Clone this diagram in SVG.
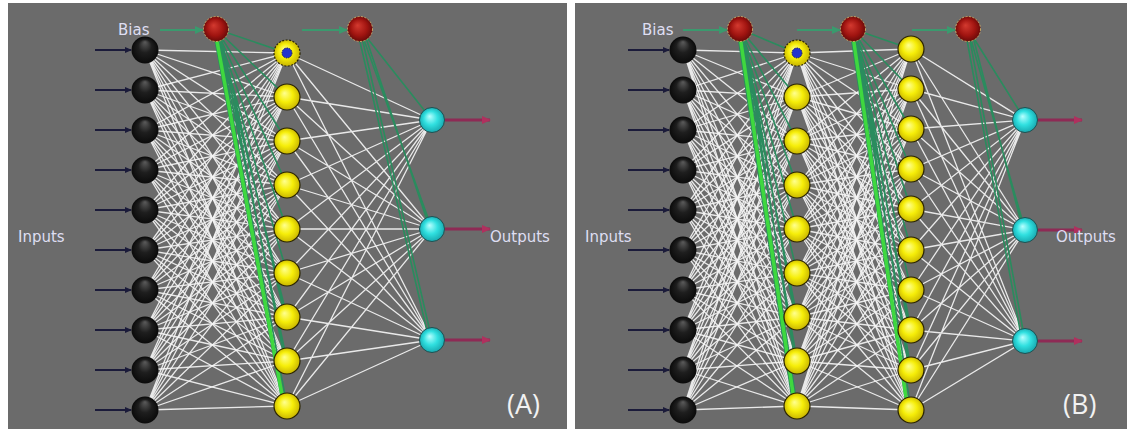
<svg xmlns="http://www.w3.org/2000/svg" width="1132" height="434" viewBox="0 0 1132 434">
<style>
.panel{fill:#6b6b6b}
.w{stroke:#f4f4f4;stroke-width:1.3;fill:none;opacity:.92}
.g{stroke:#2a8c5e;stroke-width:1.6;fill:none}
.gb{stroke:#3fd83f;stroke-width:3.5;fill:none}
.inArr{stroke:#1b1b3a;stroke-width:2;fill:none}
.biasArr{stroke:#3a9a6e;stroke-width:2;fill:none}
.outArr{stroke:#8e2a55;stroke-width:3;fill:none}
.lbl{font-family:"DejaVu Sans",sans-serif;font-size:15px;fill:#dedef2}
.tag{font-family:"Open Sans","Liberation Sans",sans-serif;font-size:27px;fill:#f2f2f2}
.blk{fill:url(#gBlk)}
.yel{fill:url(#gYel);stroke:#2a2400;stroke-width:1.2}
.cya{fill:url(#gCya);stroke:#1f5050;stroke-width:1}
.red{fill:url(#gRed);stroke:#c8a868;stroke-width:1;stroke-dasharray:2 1.5}
</style>
<defs>
<radialGradient id="gBlk" cx=".5" cy=".55" r=".55" fx=".5" fy=".2"><stop offset="0" stop-color="#5c5c5c"/><stop offset=".45" stop-color="#1e1e1e"/><stop offset="1" stop-color="#060606"/></radialGradient>
<radialGradient id="gYel" cx=".5" cy=".5" r=".55" fx=".4" fy=".35"><stop offset="0" stop-color="#ffff90"/><stop offset=".5" stop-color="#f6ee08"/><stop offset="1" stop-color="#c2ad00"/></radialGradient>
<radialGradient id="gCya" cx=".5" cy=".5" r=".55" fx=".4" fy=".35"><stop offset="0" stop-color="#b8ffff"/><stop offset=".5" stop-color="#30e0e0"/><stop offset="1" stop-color="#14a0a8"/></radialGradient>
<radialGradient id="gRed" cx=".5" cy=".5" r=".55" fx=".4" fy=".35"><stop offset="0" stop-color="#d43a30"/><stop offset=".6" stop-color="#a01410"/><stop offset="1" stop-color="#5e0808"/></radialGradient>
<marker id="mNavy" markerWidth="8" markerHeight="8" refX="6" refY="4" orient="auto" markerUnits="userSpaceOnUse"><path d="M0 1L7 4L0 7Z" fill="#1b1b3a"/></marker>
<marker id="mGreen" markerWidth="10" markerHeight="10" refX="8" refY="5" orient="auto" markerUnits="userSpaceOnUse"><path d="M0 1L9 5L0 9Z" fill="#3a9a6e"/></marker>
<marker id="mMaroon" markerWidth="10" markerHeight="10" refX="8" refY="5" orient="auto" markerUnits="userSpaceOnUse"><path d="M0 1L9 5L0 9Z" fill="#b0305e"/></marker>
</defs>
<rect width="1132" height="434" fill="#ffffff"/>
<rect class="panel" x="8" y="3" width="559" height="426"/>
<rect class="panel" x="575" y="3" width="552" height="426"/>

<g id="connectors">
<path class="w" d="M145 50L287 53M145 50L287 97M145 50L287 141M145 50L287 185M145 50L287 229M145 50L287 273M145 50L287 317M145 50L287 361M145 50L287 406"/>
<path class="w" d="M145 90L287 53M145 90L287 97M145 90L287 141M145 90L287 185M145 90L287 229M145 90L287 273M145 90L287 317M145 90L287 361M145 90L287 406"/>
<path class="w" d="M145 130L287 53M145 130L287 97M145 130L287 141M145 130L287 185M145 130L287 229M145 130L287 273M145 130L287 317M145 130L287 361M145 130L287 406"/>
<path class="w" d="M145 170L287 53M145 170L287 97M145 170L287 141M145 170L287 185M145 170L287 229M145 170L287 273M145 170L287 317M145 170L287 361M145 170L287 406"/>
<path class="w" d="M145 210L287 53M145 210L287 97M145 210L287 141M145 210L287 185M145 210L287 229M145 210L287 273M145 210L287 317M145 210L287 361M145 210L287 406"/>
<path class="w" d="M145 250L287 53M145 250L287 97M145 250L287 141M145 250L287 185M145 250L287 229M145 250L287 273M145 250L287 317M145 250L287 361M145 250L287 406"/>
<path class="w" d="M145 290L287 53M145 290L287 97M145 290L287 141M145 290L287 185M145 290L287 229M145 290L287 273M145 290L287 317M145 290L287 361M145 290L287 406"/>
<path class="w" d="M145 330L287 53M145 330L287 97M145 330L287 141M145 330L287 185M145 330L287 229M145 330L287 273M145 330L287 317M145 330L287 361M145 330L287 406"/>
<path class="w" d="M145 370L287 53M145 370L287 97M145 370L287 141M145 370L287 185M145 370L287 229M145 370L287 273M145 370L287 317M145 370L287 361M145 370L287 406"/>
<path class="w" d="M145 410L287 53M145 410L287 97M145 410L287 141M145 410L287 185M145 410L287 229M145 410L287 273M145 410L287 317M145 410L287 361M145 410L287 406"/>
<path class="w" d="M287 53L432 120M287 53L432 229M287 53L432 340M287 97L432 120M287 97L432 229M287 97L432 340M287 141L432 120M287 141L432 229M287 141L432 340M287 185L432 120M287 185L432 229M287 185L432 340M287 229L432 120M287 229L432 229M287 229L432 340M287 273L432 120M287 273L432 229M287 273L432 340M287 317L432 120M287 317L432 229M287 317L432 340M287 361L432 120M287 361L432 229M287 361L432 340M287 406L432 120M287 406L432 229M287 406L432 340"/>
<path class="g" d="M216 29L287 53M216 29L287 97M216 29L287 141M216 29L287 185M216 29L287 229M216 29L287 273M216 29L287 317M216 29L287 361M216 29L287 406M219 29L285 361M213 29L283 406M219 29L285 317"/>
<path class="gb" d="M216 36L283 400"/>
<path class="g" d="M360 29L432 120M360 29L432 229M360 29L432 340M363 29L430 229M357 29L429 340"/>

<path class="w" d="M683 50L797 53M683 50L797 97M683 50L797 141M683 50L797 185M683 50L797 229M683 50L797 273M683 50L797 317M683 50L797 361M683 50L797 406"/>
<path class="w" d="M683 90L797 53M683 90L797 97M683 90L797 141M683 90L797 185M683 90L797 229M683 90L797 273M683 90L797 317M683 90L797 361M683 90L797 406"/>
<path class="w" d="M683 130L797 53M683 130L797 97M683 130L797 141M683 130L797 185M683 130L797 229M683 130L797 273M683 130L797 317M683 130L797 361M683 130L797 406"/>
<path class="w" d="M683 170L797 53M683 170L797 97M683 170L797 141M683 170L797 185M683 170L797 229M683 170L797 273M683 170L797 317M683 170L797 361M683 170L797 406"/>
<path class="w" d="M683 210L797 53M683 210L797 97M683 210L797 141M683 210L797 185M683 210L797 229M683 210L797 273M683 210L797 317M683 210L797 361M683 210L797 406"/>
<path class="w" d="M683 250L797 53M683 250L797 97M683 250L797 141M683 250L797 185M683 250L797 229M683 250L797 273M683 250L797 317M683 250L797 361M683 250L797 406"/>
<path class="w" d="M683 290L797 53M683 290L797 97M683 290L797 141M683 290L797 185M683 290L797 229M683 290L797 273M683 290L797 317M683 290L797 361M683 290L797 406"/>
<path class="w" d="M683 330L797 53M683 330L797 97M683 330L797 141M683 330L797 185M683 330L797 229M683 330L797 273M683 330L797 317M683 330L797 361M683 330L797 406"/>
<path class="w" d="M683 370L797 53M683 370L797 97M683 370L797 141M683 370L797 185M683 370L797 229M683 370L797 273M683 370L797 317M683 370L797 361M683 370L797 406"/>
<path class="w" d="M683 410L797 53M683 410L797 97M683 410L797 141M683 410L797 185M683 410L797 229M683 410L797 273M683 410L797 317M683 410L797 361M683 410L797 406"/>
<path class="w" d="M797 53L911 49M797 53L911 89M797 53L911 129M797 53L911 169M797 53L911 209M797 53L911 250M797 53L911 290M797 53L911 330M797 53L911 370M797 53L911 410"/>
<path class="w" d="M797 97L911 49M797 97L911 89M797 97L911 129M797 97L911 169M797 97L911 209M797 97L911 250M797 97L911 290M797 97L911 330M797 97L911 370M797 97L911 410"/>
<path class="w" d="M797 141L911 49M797 141L911 89M797 141L911 129M797 141L911 169M797 141L911 209M797 141L911 250M797 141L911 290M797 141L911 330M797 141L911 370M797 141L911 410"/>
<path class="w" d="M797 185L911 49M797 185L911 89M797 185L911 129M797 185L911 169M797 185L911 209M797 185L911 250M797 185L911 290M797 185L911 330M797 185L911 370M797 185L911 410"/>
<path class="w" d="M797 229L911 49M797 229L911 89M797 229L911 129M797 229L911 169M797 229L911 209M797 229L911 250M797 229L911 290M797 229L911 330M797 229L911 370M797 229L911 410"/>
<path class="w" d="M797 273L911 49M797 273L911 89M797 273L911 129M797 273L911 169M797 273L911 209M797 273L911 250M797 273L911 290M797 273L911 330M797 273L911 370M797 273L911 410"/>
<path class="w" d="M797 317L911 49M797 317L911 89M797 317L911 129M797 317L911 169M797 317L911 209M797 317L911 250M797 317L911 290M797 317L911 330M797 317L911 370M797 317L911 410"/>
<path class="w" d="M797 361L911 49M797 361L911 89M797 361L911 129M797 361L911 169M797 361L911 209M797 361L911 250M797 361L911 290M797 361L911 330M797 361L911 370M797 361L911 410"/>
<path class="w" d="M797 406L911 49M797 406L911 89M797 406L911 129M797 406L911 169M797 406L911 209M797 406L911 250M797 406L911 290M797 406L911 330M797 406L911 370M797 406L911 410"/>
<path class="w" d="M911 49L1025 120M911 49L1025 230M911 49L1025 341M911 89L1025 120M911 89L1025 230M911 89L1025 341M911 129L1025 120M911 129L1025 230M911 129L1025 341M911 169L1025 120M911 169L1025 230M911 169L1025 341M911 209L1025 120M911 209L1025 230M911 209L1025 341M911 250L1025 120M911 250L1025 230M911 250L1025 341M911 290L1025 120M911 290L1025 230M911 290L1025 341M911 330L1025 120M911 330L1025 230M911 330L1025 341M911 370L1025 120M911 370L1025 230M911 370L1025 341M911 410L1025 120M911 410L1025 230M911 410L1025 341"/>
<path class="g" d="M740 29L797 53M740 29L797 97M740 29L797 141M740 29L797 185M740 29L797 229M740 29L797 273M740 29L797 317M740 29L797 361M740 29L797 406M743 29L795 361M737 29L793 406M743 29L795 317"/>
<path class="gb" d="M740 36L794 400"/>
<path class="g" d="M853 29L911 49M853 29L911 89M853 29L911 129M853 29L911 169M853 29L911 209M853 29L911 250M853 29L911 290M853 29L911 330M853 29L911 370M853 29L911 410M856 29L909 370M850 29L907 410M856 29L909 330"/>
<path class="gb" d="M853 36L907 404"/>
<path class="g" d="M968 29L1025 120M968 29L1025 230M968 29L1025 341M971 29L1023 230M965 29L1022 341"/>

<path class="inArr" marker-end="url(#mNavy)" d="M95 50H131"/>
<path class="inArr" marker-end="url(#mNavy)" d="M95 90H131"/>
<path class="inArr" marker-end="url(#mNavy)" d="M95 130H131"/>
<path class="inArr" marker-end="url(#mNavy)" d="M95 170H131"/>
<path class="inArr" marker-end="url(#mNavy)" d="M95 210H131"/>
<path class="inArr" marker-end="url(#mNavy)" d="M95 250H131"/>
<path class="inArr" marker-end="url(#mNavy)" d="M95 290H131"/>
<path class="inArr" marker-end="url(#mNavy)" d="M95 330H131"/>
<path class="inArr" marker-end="url(#mNavy)" d="M95 370H131"/>
<path class="inArr" marker-end="url(#mNavy)" d="M95 410H131"/>
<path class="inArr" marker-end="url(#mNavy)" d="M628 50H669"/>
<path class="inArr" marker-end="url(#mNavy)" d="M628 90H669"/>
<path class="inArr" marker-end="url(#mNavy)" d="M628 130H669"/>
<path class="inArr" marker-end="url(#mNavy)" d="M628 170H669"/>
<path class="inArr" marker-end="url(#mNavy)" d="M628 210H669"/>
<path class="inArr" marker-end="url(#mNavy)" d="M628 250H669"/>
<path class="inArr" marker-end="url(#mNavy)" d="M628 290H669"/>
<path class="inArr" marker-end="url(#mNavy)" d="M628 330H669"/>
<path class="inArr" marker-end="url(#mNavy)" d="M628 370H669"/>
<path class="inArr" marker-end="url(#mNavy)" d="M628 410H669"/>
<path class="biasArr" marker-end="url(#mGreen)" d="M160 30H203"/>
<path class="biasArr" marker-end="url(#mGreen)" d="M302 30H347"/>
<path class="biasArr" marker-end="url(#mGreen)" d="M683 30H727"/>
<path class="biasArr" marker-end="url(#mGreen)" d="M797 30H840"/>
<path class="biasArr" marker-end="url(#mGreen)" d="M912 30H955"/>
<path class="outArr" marker-end="url(#mMaroon)" d="M445 120H490"/>
<path class="outArr" marker-end="url(#mMaroon)" d="M445 229H490"/>
<path class="outArr" marker-end="url(#mMaroon)" d="M445 340H490"/>
<path class="outArr" marker-end="url(#mMaroon)" d="M1038 120H1082"/>
<path class="outArr" marker-end="url(#mMaroon)" d="M1038 230H1082"/>
<path class="outArr" marker-end="url(#mMaroon)" d="M1038 341H1082"/>
</g>

<g id="A-in-1"><circle class="blk" cx="145" cy="50" r="13.5"/></g>
<g id="A-in-2"><circle class="blk" cx="145" cy="90" r="13.5"/></g>
<g id="A-in-3"><circle class="blk" cx="145" cy="130" r="13.5"/></g>
<g id="A-in-4"><circle class="blk" cx="145" cy="170" r="13.5"/></g>
<g id="A-in-5"><circle class="blk" cx="145" cy="210" r="13.5"/></g>
<g id="A-in-6"><circle class="blk" cx="145" cy="250" r="13.5"/></g>
<g id="A-in-7"><circle class="blk" cx="145" cy="290" r="13.5"/></g>
<g id="A-in-8"><circle class="blk" cx="145" cy="330" r="13.5"/></g>
<g id="A-in-9"><circle class="blk" cx="145" cy="370" r="13.5"/></g>
<g id="A-in-10"><circle class="blk" cx="145" cy="410" r="13.5"/></g>
<g id="A-bias-1"><circle class="red" cx="216" cy="29" r="12.5"/></g>
<g id="A-bias-2"><circle class="red" cx="360" cy="29" r="12.5"/></g>
<g id="A-hid-1"><circle class="yel" cx="287" cy="53" r="13" stroke-dasharray="2 1.5"/><circle cx="287" cy="53" r="5" fill="#2233cc" stroke="#1a1a60" stroke-width="1" stroke-dasharray="1.5 1"/></g>
<g id="A-hid-2"><circle class="yel" cx="287" cy="97" r="13"/></g>
<g id="A-hid-3"><circle class="yel" cx="287" cy="141" r="13"/></g>
<g id="A-hid-4"><circle class="yel" cx="287" cy="185" r="13"/></g>
<g id="A-hid-5"><circle class="yel" cx="287" cy="229" r="13"/></g>
<g id="A-hid-6"><circle class="yel" cx="287" cy="273" r="13"/></g>
<g id="A-hid-7"><circle class="yel" cx="287" cy="317" r="13"/></g>
<g id="A-hid-8"><circle class="yel" cx="287" cy="361" r="13"/></g>
<g id="A-hid-9"><circle class="yel" cx="287" cy="406" r="13"/></g>
<g id="A-out-1"><circle class="cya" cx="432" cy="120" r="12.5"/></g>
<g id="A-out-2"><circle class="cya" cx="432" cy="229" r="12.5"/></g>
<g id="A-out-3"><circle class="cya" cx="432" cy="340" r="12.5"/></g>

<g id="B-in-1"><circle class="blk" cx="683" cy="50" r="13.5"/></g>
<g id="B-in-2"><circle class="blk" cx="683" cy="90" r="13.5"/></g>
<g id="B-in-3"><circle class="blk" cx="683" cy="130" r="13.5"/></g>
<g id="B-in-4"><circle class="blk" cx="683" cy="170" r="13.5"/></g>
<g id="B-in-5"><circle class="blk" cx="683" cy="210" r="13.5"/></g>
<g id="B-in-6"><circle class="blk" cx="683" cy="250" r="13.5"/></g>
<g id="B-in-7"><circle class="blk" cx="683" cy="290" r="13.5"/></g>
<g id="B-in-8"><circle class="blk" cx="683" cy="330" r="13.5"/></g>
<g id="B-in-9"><circle class="blk" cx="683" cy="370" r="13.5"/></g>
<g id="B-in-10"><circle class="blk" cx="683" cy="410" r="13.5"/></g>
<g id="B-bias-1"><circle class="red" cx="740" cy="29" r="12.5"/></g>
<g id="B-bias-2"><circle class="red" cx="853" cy="29" r="12.5"/></g>
<g id="B-bias-3"><circle class="red" cx="968" cy="29" r="12.5"/></g>
<g id="B-h1-1"><circle class="yel" cx="797" cy="53" r="13" stroke-dasharray="2 1.5"/><circle cx="797" cy="53" r="5" fill="#2233cc" stroke="#1a1a60" stroke-width="1" stroke-dasharray="1.5 1"/></g>
<g id="B-h1-2"><circle class="yel" cx="797" cy="97" r="13"/></g>
<g id="B-h1-3"><circle class="yel" cx="797" cy="141" r="13"/></g>
<g id="B-h1-4"><circle class="yel" cx="797" cy="185" r="13"/></g>
<g id="B-h1-5"><circle class="yel" cx="797" cy="229" r="13"/></g>
<g id="B-h1-6"><circle class="yel" cx="797" cy="273" r="13"/></g>
<g id="B-h1-7"><circle class="yel" cx="797" cy="317" r="13"/></g>
<g id="B-h1-8"><circle class="yel" cx="797" cy="361" r="13"/></g>
<g id="B-h1-9"><circle class="yel" cx="797" cy="406" r="13"/></g>
<g id="B-h2-1"><circle class="yel" cx="911" cy="49" r="13"/></g>
<g id="B-h2-2"><circle class="yel" cx="911" cy="89" r="13"/></g>
<g id="B-h2-3"><circle class="yel" cx="911" cy="129" r="13"/></g>
<g id="B-h2-4"><circle class="yel" cx="911" cy="169" r="13"/></g>
<g id="B-h2-5"><circle class="yel" cx="911" cy="209" r="13"/></g>
<g id="B-h2-6"><circle class="yel" cx="911" cy="250" r="13"/></g>
<g id="B-h2-7"><circle class="yel" cx="911" cy="290" r="13"/></g>
<g id="B-h2-8"><circle class="yel" cx="911" cy="330" r="13"/></g>
<g id="B-h2-9"><circle class="yel" cx="911" cy="370" r="13"/></g>
<g id="B-h2-10"><circle class="yel" cx="911" cy="410" r="13"/></g>
<g id="B-out-1"><circle class="cya" cx="1025" cy="120" r="12.5"/></g>
<g id="B-out-2"><circle class="cya" cx="1025" cy="230" r="12.5"/></g>
<g id="B-out-3"><circle class="cya" cx="1025" cy="341" r="12.5"/></g>

<g id="labels">
<text class="lbl" x="118" y="35">Bias</text>
<text class="lbl" x="18" y="242">Inputs</text>
<text class="lbl" x="490" y="242">Outputs</text>
<text class="tag" x="507" y="414">(A)</text>
<text class="lbl" x="642" y="35">Bias</text>
<text class="lbl" x="585" y="242">Inputs</text>
<text class="lbl" x="1056" y="242">Outputs</text>
<text class="tag" x="1063" y="414">(B)</text>
</g>
</svg>
